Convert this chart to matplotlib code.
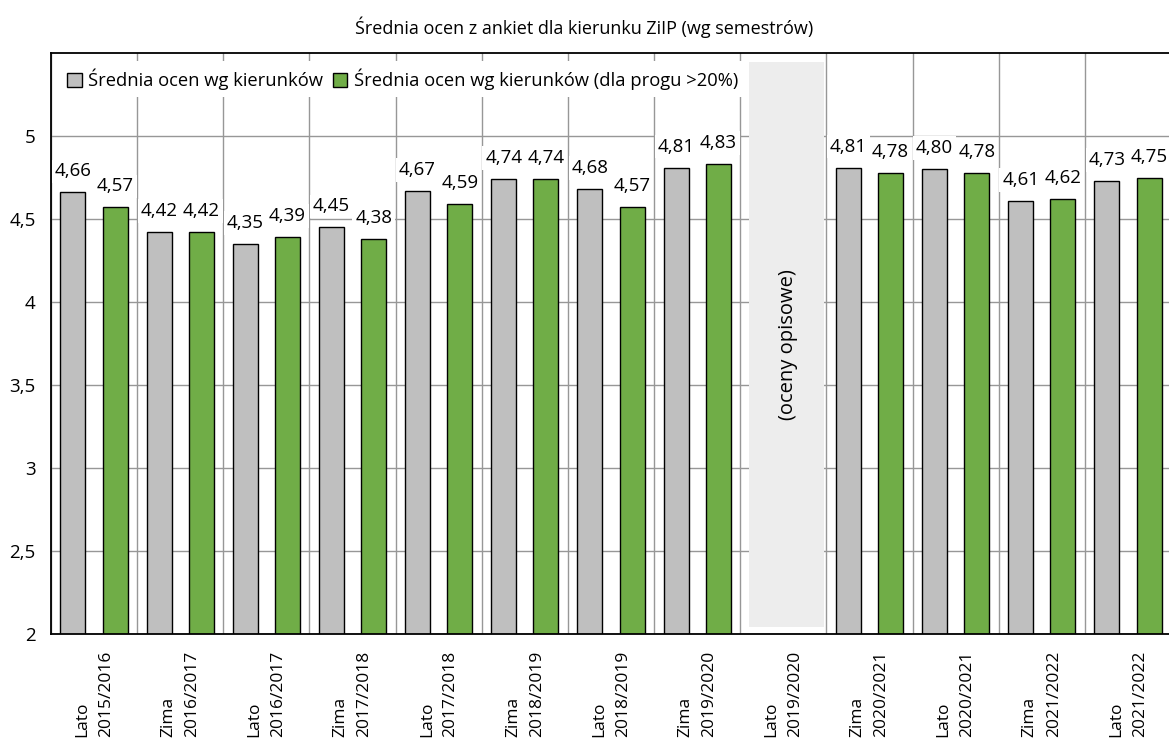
import matplotlib
matplotlib.use("Agg")
import matplotlib.pyplot as plt
from matplotlib.patches import Rectangle
import numpy as np

plt.rcParams['font.family'] = ['Open Sans', 'DejaVu Sans']

# ---- data ----
seasons = ["Lato", "Zima", "Lato", "Zima", "Lato", "Zima", "Lato", "Zima",
           "Lato", "Zima", "Lato", "Zima", "Lato"]
years = ["2015/2016", "2016/2017", "2016/2017", "2017/2018", "2017/2018",
         "2018/2019", "2018/2019", "2019/2020", "2019/2020", "2020/2021",
         "2020/2021", "2021/2022", "2021/2022"]
avg_all = [4.66, 4.42, 4.35, 4.45, 4.67, 4.74, 4.68, 4.81, np.nan,
           4.81, 4.80, 4.61, 4.73]
avg_thr = [4.57, 4.42, 4.39, 4.38, 4.59, 4.74, 4.57, 4.83, np.nan,
           4.78, 4.78, 4.62, 4.75]
series_names = ["Średnia ocen wg kierunków",
                "Średnia ocen wg kierunków (dla progu >20%)"]
y_ticks = [2, 2.5, 3, 3.5, 4, 4.5, 5]
title = "Średnia ocen z ankiet dla kierunku ZiIP (wg semestrów)"
gap_index = 8
gap_text = "(oceny opisowe)"

# ---- figure ----
W, H = 1169, 741
fig = plt.figure(figsize=(W / 100, H / 100), dpi=100)
ax = fig.add_axes([51 / W, (H - 634) / H, 1120 / W, (634 - 53) / H])

x = np.arange(len(seasons))
bw = 0.29
off = 0.245
gray = "#bfbfbf"
green = "#70ad47"

b1 = ax.bar(x - off, avg_all, bw, color=gray, edgecolor="black", linewidth=1.0,
            zorder=2, label=series_names[0])
b2 = ax.bar(x + off, avg_thr, bw, color=green, edgecolor="black", linewidth=1.0,
            zorder=2, label=series_names[1])

ax.set_xlim(-0.5, len(seasons) - 0.5)
ax.set_ylim(2, 5.5)

# grid
ax.set_yticks(y_ticks)
ax.set_yticklabels([("%g" % v).replace(".", ",") for v in y_ticks])
ax.set_xticks(x)
ax.set_xticklabels([f"{s}\n{y}" for s, y in zip(seasons, years)],
                   rotation=90, va="top", ha="center", multialignment="left",
                   linespacing=1.65)
ax.set_xticks(np.arange(-0.5, len(seasons)), minor=True)
ax.grid(True, axis="y", which="major", color="#979797", linewidth=1.0, zorder=0)
ax.grid(True, axis="x", which="minor", color="#979797", linewidth=1.0, zorder=0)
ax.grid(False, axis="x", which="major")
ax.set_axisbelow(True)
ax.tick_params(axis="both", which="both", length=0)
ax.tick_params(axis="y", pad=11, labelsize=13.5)
ax.tick_params(axis="x", pad=12, labelsize=12.5)

for s in ["left", "bottom", "top"]:
    ax.spines[s].set_color("black")
    ax.spines[s].set_linewidth(1.3)
ax.spines["right"].set_visible(False)

# gap panel
rect = Rectangle((gap_index - 0.393, 2.042), 0.87, 5.446 - 2.042,
                 facecolor="#ededed", edgecolor="none", zorder=1)
ax.add_patch(rect)
ax.text(gap_index + 0.06, (2.042 + 5.446) / 2, gap_text, rotation=90,
        ha="center", va="center", fontsize=14.5, zorder=3)

# data labels
def lab(bars, vals, z):
    for bar, v in zip(bars, vals):
        if np.isnan(v):
            continue
        ax.annotate(f"{v:.2f}".replace(".", ","),
                    (bar.get_x() + bar.get_width() / 2, v),
                    xytext=(0, 11.5), textcoords="offset points",
                    ha="center", va="baseline", fontsize=13.5, zorder=z,
                    bbox=dict(boxstyle="square,pad=0.15", facecolor="white",
                              edgecolor="none"))

lab(b1, avg_all, 5)
lab(b2, avg_thr, 6)

leg = ax.legend(loc="center left", bbox_to_anchor=(0.008, 0.955), ncol=2,
                frameon=True, fancybox=False, framealpha=1, edgecolor="none",
                facecolor="white", fontsize=13.2, handlelength=0.8,
                handleheight=0.8, handletextpad=0.35, columnspacing=0.5,
                borderaxespad=0, borderpad=0.4)
leg.set_zorder(7)

fig.text(0.5, 1 - 27 / H, title, ha="center", va="center", fontsize=13)

fig.savefig("out.png", dpi=100)
